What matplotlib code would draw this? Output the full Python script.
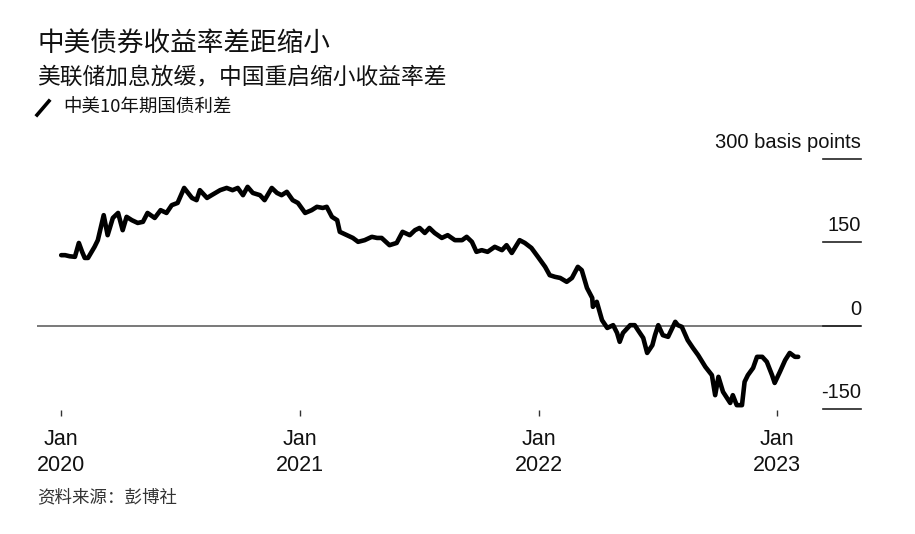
import matplotlib
matplotlib.use('Agg')
import matplotlib.pyplot as plt
import matplotlib.transforms as mtransforms
from matplotlib.lines import Line2D
import pandas as pd

plt.rcParams['font.family'] = ['Noto Sans CJK SC', 'DejaVu Sans']

# China-US 10y yield spread, basis points
dates = [
    '2020-01-02', '2020-01-08', '2020-01-15', '2020-01-23', '2020-01-29', '2020-02-03', '2020-02-07',
    '2020-02-12', '2020-02-22', '2020-02-27', '2020-03-07', '2020-03-13', '2020-03-21', '2020-03-29',
    '2020-04-05', '2020-04-11', '2020-04-19', '2020-04-28', '2020-05-06', '2020-05-13', '2020-05-24',
    '2020-06-02', '2020-06-11', '2020-06-19', '2020-06-28', '2020-07-08', '2020-07-20', '2020-07-27',
    '2020-08-01', '2020-08-12', '2020-08-19', '2020-09-01', '2020-09-11', '2020-09-20', '2020-09-28',
    '2020-10-06', '2020-10-13', '2020-10-21', '2020-11-01', '2020-11-08', '2020-11-19', '2020-11-27',
    '2020-12-04', '2020-12-12', '2020-12-21', '2020-12-29', '2021-01-09', '2021-01-19', '2021-01-27',
    '2021-02-05', '2021-02-11', '2021-02-19', '2021-02-27', '2021-03-03', '2021-03-14', '2021-03-23',
    '2021-03-31', '2021-04-10', '2021-04-21', '2021-04-29', '2021-05-06', '2021-05-18', '2021-05-29',
    '2021-06-07', '2021-06-18', '2021-06-26', '2021-07-03', '2021-07-11', '2021-07-18', '2021-07-26',
    '2021-08-06', '2021-08-15', '2021-08-26', '2021-09-06', '2021-09-13', '2021-09-21', '2021-09-28',
    '2021-10-06', '2021-10-15', '2021-10-26', '2021-11-06', '2021-11-13', '2021-11-21', '2021-12-03',
    '2021-12-11', '2021-12-21', '2021-12-31', '2022-01-11', '2022-01-18', '2022-01-26', '2022-02-03',
    '2022-02-13', '2022-02-21', '2022-03-02', '2022-03-08', '2022-03-16', '2022-03-24', '2022-03-25',
    '2022-03-31', '2022-04-08', '2022-04-16', '2022-04-25', '2022-05-01', '2022-05-05', '2022-05-10',
    '2022-05-21', '2022-05-28', '2022-06-02', '2022-06-10', '2022-06-16', '2022-06-24', '2022-06-28',
    '2022-07-03', '2022-07-10', '2022-07-18', '2022-07-29', '2022-08-02', '2022-08-08', '2022-08-17',
    '2022-08-25', '2022-09-02', '2022-09-13', '2022-09-23', '2022-09-28', '2022-10-03', '2022-10-10',
    '2022-10-21', '2022-10-25', '2022-10-31', '2022-11-08', '2022-11-12', '2022-11-17', '2022-11-25',
    '2022-12-01', '2022-12-09', '2022-12-16', '2022-12-24', '2022-12-28', '2023-01-05', '2023-01-13',
    '2023-01-20', '2023-01-28', '2023-02-02',
]
spread = [
    127, 127, 125, 124, 149, 133, 122,
    122, 142, 154, 199, 163, 194, 203,
    172, 196, 190, 185, 187, 203, 194,
    208, 203, 217, 221, 248, 230, 226,
    244, 230, 235, 244, 248, 244, 248,
    235, 250, 239, 235, 226, 248, 239,
    235, 241, 226, 221, 203, 208, 214,
    212, 214, 196, 190, 169, 163, 158,
    151, 154, 160, 158, 158, 145, 149,
    169, 163, 172, 176, 167, 176, 167,
    158, 163, 154, 154, 160, 151, 133,
    136, 133, 142, 136, 145, 131, 154,
    149, 140, 124, 106, 91, 88, 86,
    79, 86, 106, 100, 68, 50, 34,
    43, 10, -4, 1, -13, -29, -13,
    1, 1, -8, -22, -49, -35, -17,
    1, -17, -20, 7, 1, -2, -26,
    -40, -53, -74, -89, -125, -92, -119,
    -139, -125, -143, -143, -101, -89, -76,
    -56, -56, -65, -89, -103, -83, -62,
    -49, -56, -56,
]

y_ticks = [300, 150, 0, -150]
y_labels = ['300 basis points', '150', '0', '-150']
x_ticks = ['2020-01-01', '2021-01-01', '2022-01-01', '2023-01-01']
x_labels = ['Jan\n2020', 'Jan\n2021', 'Jan\n2022', 'Jan\n2023']

title = '中美债券收益率差距缩小'
subtitle = '美联储加息放缓，中国重启缩小收益率差'
legend_label = '中美10年期国债利差'
source = '资料来源：彭博社'

W, H = 915, 534
fig = plt.figure(figsize=(W / 100, H / 100), dpi=100)
# axes placed in pixel terms of the reference
left, right, top, bottom = 37, 861, 130, 410
ax = fig.add_axes([left / W, 1 - bottom / H, (right - left) / W, (bottom - top) / H])

ax.plot(pd.to_datetime(dates), spread, color='black', lw=3.3,
        solid_joinstyle='round', solid_capstyle='round', clip_on=False, zorder=3)

ax.set_xlim(pd.Timestamp('2019-11-26'), pd.Timestamp('2023-05-09'))
ax.set_ylim(-151.7, 352.3)

for s in ax.spines.values():
    s.set_visible(False)
ax.set_yticks([])

ax.set_xticks(pd.to_datetime(x_ticks))
ax.set_xticklabels(x_labels, fontsize=15.5, family='Liberation Sans', color='#111',
                   linespacing=1.35)
ax.tick_params(axis='x', length=4.5, width=1, color='#333', pad=9)

# zero line across the plot
ax.axhline(0, color='#555', lw=1.1, zorder=1)

# right-hand value labels with short rules
trans = mtransforms.blended_transform_factory(ax.transAxes, ax.transData)
for v, lab in zip(y_ticks, y_labels):
    ax.plot([0.954, 1.0], [v, v], transform=trans, color='#222', lw=1.2, clip_on=False)
    ax.text(1.0, v + 20, lab, transform=trans, ha='right', va='baseline',
            fontsize=14.5, family='Liberation Sans', color='#111')

# header
fig.text(37 / W, 1 - 43 / H, title, fontsize=19.2, va='center', color='#111')
fig.text(37 / W, 1 - 76.5 / H, subtitle, fontsize=16.4, va='center', color='#111')
fig.add_artist(Line2D([37 / W, 49 / W], [1 - 115 / H, 1 - 101 / H], color='black', lw=2.6))
fig.text(63 / W, 1 - 108 / H, legend_label, fontsize=13.3, va='center', color='#111')

fig.text(37 / W, 1 - 497 / H, source, fontsize=12.6, va='center', color='#333')

fig.savefig('out.png', dpi=100)
